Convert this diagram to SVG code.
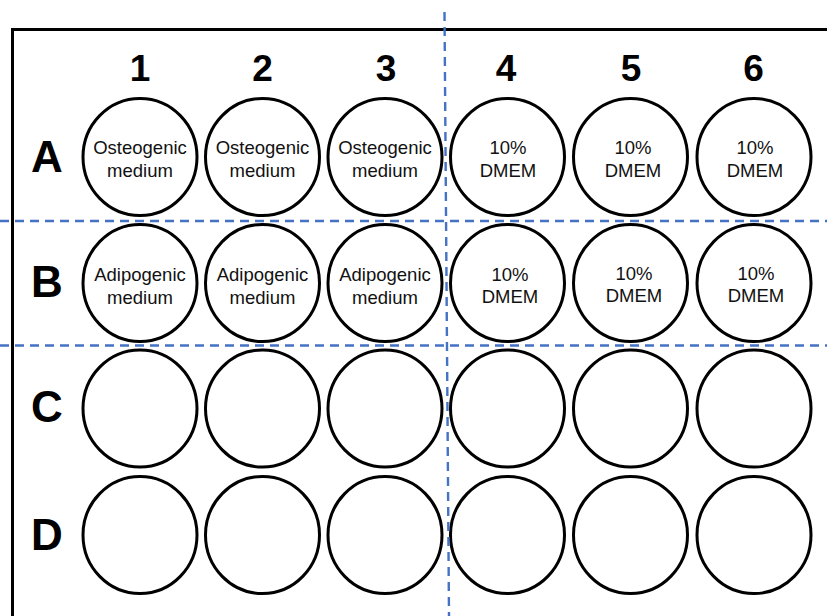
<svg xmlns="http://www.w3.org/2000/svg" width="827" height="616" viewBox="0 0 827 616">
<style>
.well{fill:#fff;stroke:#000;stroke-width:3}
.lbl{font-family:"Liberation Sans",Arial,sans-serif;font-size:18.5px;fill:#111;text-anchor:middle}
.col{font-family:"Liberation Sans",Arial,sans-serif;font-size:37px;font-weight:bold;fill:#000;text-anchor:middle}
.row{font-family:"Liberation Sans",Arial,sans-serif;font-size:44px;font-weight:bold;fill:#000;text-anchor:middle}
.div{stroke:#4472C4;stroke-width:2.4;stroke-dasharray:9 6;fill:none}
</style>
<rect width="827" height="616" fill="#fff"/>
<g id="plate"><rect x="12.5" y="29.5" width="830" height="600" fill="none" stroke="#000" stroke-width="3"/></g>
<g id="col-labels">
<text class="col" x="140" y="81">1</text>
<text class="col" x="262.5" y="81">2</text>
<text class="col" x="386" y="81">3</text>
<text class="col" x="506" y="81">4</text>
<text class="col" x="631" y="81">5</text>
<text class="col" x="753.5" y="81">6</text>
</g>
<g id="row-labels">
<text class="row" x="47" y="172">A</text>
<text class="row" x="47" y="296.5">B</text>
<text class="row" x="47" y="422">C</text>
<text class="row" x="47" y="550">D</text>
</g>
<g id="A1"><ellipse class="well" cx="140" cy="157" rx="57" ry="58.5"/><text class="lbl" x="140" y="154">Osteogenic</text><text class="lbl" x="140" y="177">medium</text></g>
<g id="A2"><ellipse class="well" cx="262.5" cy="157" rx="57" ry="58.5"/><text class="lbl" x="262.5" y="154">Osteogenic</text><text class="lbl" x="262.5" y="177">medium</text></g>
<g id="A3"><ellipse class="well" cx="385" cy="157" rx="57" ry="58.5"/><text class="lbl" x="385" y="154">Osteogenic</text><text class="lbl" x="385" y="177">medium</text></g>
<g id="A4"><ellipse class="well" cx="507.5" cy="157" rx="57" ry="58.5"/><text class="lbl" x="508" y="154">10%</text><text class="lbl" x="508" y="177">DMEM</text></g>
<g id="A5"><ellipse class="well" cx="630.5" cy="157" rx="57" ry="58.5"/><text class="lbl" x="633" y="154">10%</text><text class="lbl" x="633" y="177">DMEM</text></g>
<g id="A6"><ellipse class="well" cx="754" cy="157" rx="57" ry="58.5"/><text class="lbl" x="755" y="154">10%</text><text class="lbl" x="755" y="177">DMEM</text></g>
<g id="B1"><ellipse class="well" cx="140" cy="283" rx="57" ry="58.5"/><text class="lbl" x="140" y="281">Adipogenic</text><text class="lbl" x="140" y="304">medium</text></g>
<g id="B2"><ellipse class="well" cx="262.5" cy="283" rx="57" ry="58.5"/><text class="lbl" x="262.5" y="281">Adipogenic</text><text class="lbl" x="262.5" y="304">medium</text></g>
<g id="B3"><ellipse class="well" cx="385" cy="283" rx="57" ry="58.5"/><text class="lbl" x="385" y="281">Adipogenic</text><text class="lbl" x="385" y="304">medium</text></g>
<g id="B4"><ellipse class="well" cx="507.5" cy="283" rx="57" ry="58.5"/><text class="lbl" x="510" y="281">10%</text><text class="lbl" x="510" y="303">DMEM</text></g>
<g id="B5"><ellipse class="well" cx="630.5" cy="283" rx="57" ry="58.5"/><text class="lbl" x="634" y="279.5">10%</text><text class="lbl" x="634" y="301.5">DMEM</text></g>
<g id="B6"><ellipse class="well" cx="754" cy="283" rx="57" ry="58.5"/><text class="lbl" x="756" y="279.5">10%</text><text class="lbl" x="756" y="301.5">DMEM</text></g>
<g id="C1"><ellipse class="well" cx="140" cy="408.5" rx="57" ry="58.5"/></g>
<g id="C2"><ellipse class="well" cx="262.5" cy="408.5" rx="57" ry="58.5"/></g>
<g id="C3"><ellipse class="well" cx="385" cy="408.5" rx="57" ry="58.5"/></g>
<g id="C4"><ellipse class="well" cx="507.5" cy="408.5" rx="57" ry="58.5"/></g>
<g id="C5"><ellipse class="well" cx="630.5" cy="408.5" rx="57" ry="58.5"/></g>
<g id="C6"><ellipse class="well" cx="754" cy="408.5" rx="57" ry="58.5"/></g>
<g id="D1"><ellipse class="well" cx="140" cy="535" rx="57" ry="58.5"/></g>
<g id="D2"><ellipse class="well" cx="262.5" cy="535" rx="57" ry="58.5"/></g>
<g id="D3"><ellipse class="well" cx="385" cy="535" rx="57" ry="58.5"/></g>
<g id="D4"><ellipse class="well" cx="507.5" cy="535" rx="57" ry="58.5"/></g>
<g id="D5"><ellipse class="well" cx="630.5" cy="535" rx="57" ry="58.5"/></g>
<g id="D6"><ellipse class="well" cx="754" cy="535" rx="57" ry="58.5"/></g>
<g id="dividers">
<line class="div" x1="0" y1="221" x2="827" y2="221"/>
<line class="div" x1="0" y1="345.5" x2="827" y2="345.5"/>
<line class="div" x1="444.5" y1="12" x2="449" y2="616"/>
</g>
</svg>
